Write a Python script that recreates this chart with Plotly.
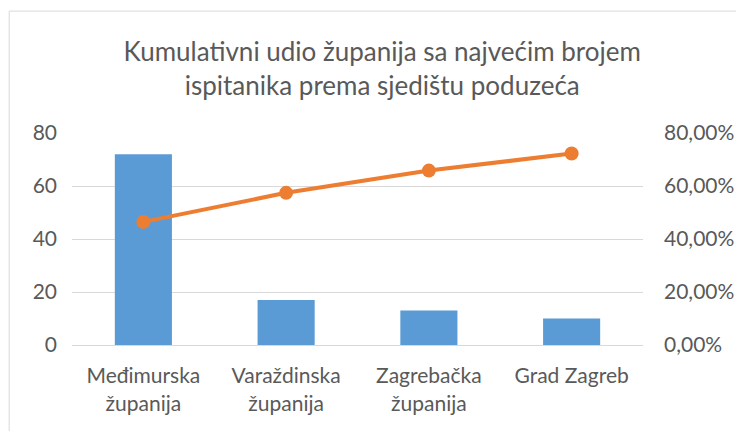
import plotly.graph_objects as go

categories = ["Međimurska<br>županija", "Varaždinska<br>županija", "Zagrebačka<br>županija", "Grad Zagreb"]
counts = [72, 17, 13, 10]
cumulative_share = [0.4645, 0.5742, 0.6581, 0.7226]
left_ticks = [0, 20, 40, 60, 80]
right_ticks = [0, 0.2, 0.4, 0.6, 0.8]

FONT = "Lato"
TXT = "#595959"

fig = go.Figure()
fig.add_trace(go.Bar(x=categories, y=counts, marker=dict(color="#5B9BD5", line=dict(width=0)),
                     width=0.4, yaxis="y", showlegend=False))
fig.add_trace(go.Scatter(x=categories, y=cumulative_share, mode="lines+markers",
                         line=dict(color="#ED7D31", width=4),
                         marker=dict(color="#ED7D31", size=14),
                         yaxis="y2", showlegend=False))

fig.update_layout(
    width=744, height=431,
    margin=dict(l=64, r=109, t=125, b=94),
    paper_bgcolor="white", plot_bgcolor="white",
    separators=",.",
    font=dict(family=FONT, color=TXT, size=21),
    title=dict(text="Kumulativni udio županija sa najvećim brojem<br>ispitanika prema sjedištu poduzeća",
               x=0.503, xanchor="center", y=0.877, yanchor="middle",
               font=dict(family=FONT, size=26, color=TXT)),
    xaxis=dict(showgrid=False, showline=True, linecolor="#D9D9D9", linewidth=1,
               ticks="", ticklabelstandoff=12, tickfont=dict(size=21, color=TXT)),
    yaxis=dict(range=[0, 80], tickvals=left_ticks, showgrid=True, gridcolor="#D9D9D9",
               gridwidth=1, zeroline=False, ticks="", ticklabelstandoff=14,
               tickfont=dict(size=21, color=TXT)),
    yaxis2=dict(range=[0, 0.8], tickvals=right_ticks, tickformat=".2%", overlaying="y",
                side="right", showgrid=False, zeroline=False, ticks="", ticklabelstandoff=20,
                tickfont=dict(size=21, color=TXT)),
    bargap=0.6,
    shapes=[dict(type="rect", xref="paper", yref="paper", x0=-0.11, x1=1.25, y0=-0.6, y1=1.575,
                 line=dict(color="#D9D9D9", width=1), fillcolor="rgba(0,0,0,0)", layer="below")],
)

fig.write_html("out.html")
